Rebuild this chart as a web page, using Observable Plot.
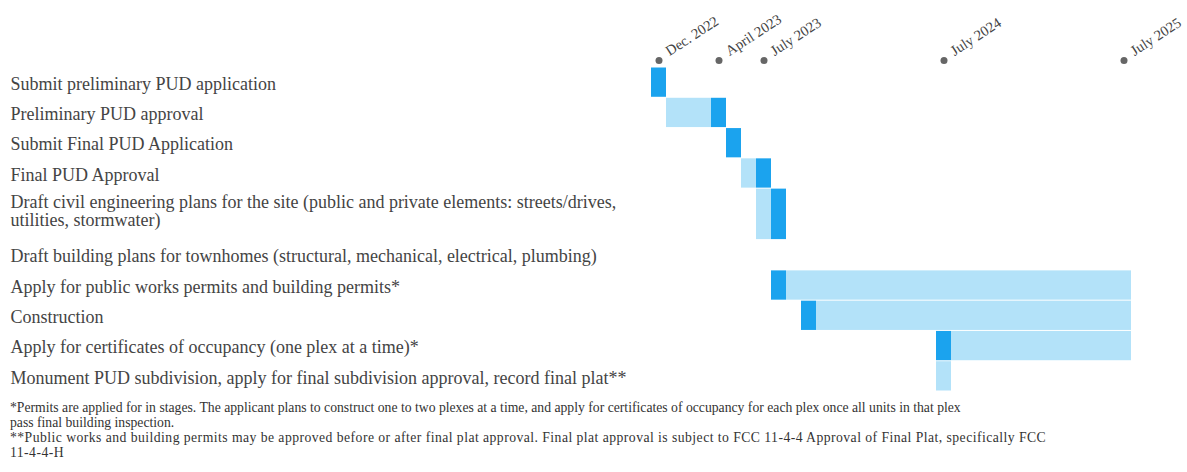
<!DOCTYPE html>
<html><head><meta charset="utf-8">
<script src="https://cdn.jsdelivr.net/npm/d3@7"></script>
<script src="https://cdn.jsdelivr.net/npm/@observablehq/plot@0.6"></script>
<style>
body{margin:0;background:#fff;}
#chart svg{display:block}
.notes{font-family:"Liberation Serif","Times New Roman",serif;font-size:13.7px;line-height:15px;color:#333;margin:5px 0 0 10px;white-space:nowrap;}
.notes .n2{letter-spacing:0.45px;}
</style></head><body>
<div id="chart"></div>
<div class="notes" id="notes"></div>
<script>
// Task labels (top to bottom)
const tasks = [
  "Submit preliminary PUD application",
  "Preliminary PUD approval",
  "Submit Final PUD Application",
  "Final PUD Approval",
  "Draft civil engineering plans for the site (public and private elements: streets/drives,\nutilities, stormwater)",
  "Draft building plans for townhomes (structural, mechanical, electrical, plumbing)",
  "Apply for public works permits and building permits*",
  "Construction",
  "Apply for certificates of occupancy (one plex at a time)*",
  "Monument PUD subdivision, apply for final subdivision approval, record final plat**"
];
// Key (dark) month per task
const darkMonth = ["2022-12","2023-04","2023-05","2023-07","2023-08",null,"2023-08","2023-10","2024-07",null];
// Waiting / ongoing (light) months per task, inclusive
const lightFrom = [null,"2023-01",null,"2023-06","2023-07",null,"2023-09","2023-11","2024-08","2024-07"];
const lightTo   = [null,"2023-03",null,"2023-06","2023-07",null,"2025-07","2025-07","2025-07","2024-07"];
// Timeline span (months) and markers
const firstMonth = "2022-12";
const lastMonth  = "2025-07";
const tickMonths = ["2022-12","2023-04","2023-07","2024-07","2025-07"];
const tickLabels = ["Dec. 2022","April 2023","July 2023","July 2024","July 2025"];
const notes = [
  "*Permits are applied for in stages. The applicant plans to construct one to two plexes at a time, and apply for certificates of occupancy for each plex once all units in that plex\npass final building inspection.",
  "**Public works and building permits may be approved before or after final plat approval. Final plat approval is subject to FCC 11-4-4 Approval of Final Plat, specifically FCC\n11-4-4-H"
];

const D = m => new Date(m + "-01T00:00:00Z");
const mi = m => d3.utcMonth.count(D(firstMonth), D(m)); // month index, 0 = first month
const nMonths = mi(lastMonth) + 1;

// rows: height depends on number of text lines
let acc = 0;
const rows = tasks.map((label, i) => {
  const lines = label.split("\n").length;
  const h = lines > 1 ? 1.7 : 1;
  const r = {i, label, top: acc, bottom: acc + h, labelY: lines > 1 ? acc + 0.7 : acc + h / 2};
  acc += h;
  return r;
});
const total = acc;
const segs = [];
rows.forEach((r, i) => {
  if (lightFrom[i]) segs.push({kind: "light", x1: mi(lightFrom[i]), x2: mi(lightTo[i]) + 1, top: r.top, bottom: r.bottom});
  if (darkMonth[i]) segs.push({kind: "dark", x1: mi(darkMonth[i]), x2: mi(darkMonth[i]) + 1, top: r.top, bottom: r.bottom});
});
const ticks = tickMonths.map((m, i) => ({x: mi(m) + 0.5, label: tickLabels[i]}));

const font = "'Liberation Serif','Times New Roman',serif";
const chart = Plot.plot({
  width: 1187,
  height: 395,
  marginTop: 67,
  marginBottom: 4,
  marginLeft: 0,
  marginRight: 0,
  style: {fontFamily: font, background: "#fff"},
  x: {domain: [0, nMonths], range: [651, 1131], axis: null},
  y: {domain: [0, total], reverse: true, axis: null},
  color: {domain: ["light", "dark"], range: ["#B3E2F9", "#1BA3EE"]},
  marks: [
    Plot.rect(segs, {x1: "x1", x2: "x2", y1: "top", y2: "bottom", fill: "kind", insetTop: 0.5, insetBottom: 0.5}),
    Plot.text(rows, {y: "labelY", text: "label", frameAnchor: "left", dx: 10, dy: 1.5, textAnchor: "start", fontSize: 18, lineHeight: 0.98, fill: "#444", fontFamily: font}),
    Plot.dot(ticks, {x: "x", frameAnchor: "top", dy: -7, r: 3.5, fill: "#666"}),
    Plot.text(ticks, {x: "x", text: "label", frameAnchor: "top", dy: -20, dx: 5, rotate: -33, textAnchor: "start", fontSize: 14.5, fill: "#444", fontFamily: font})
  ]
});
document.getElementById("chart").append(chart);
const esc = s => s.replace(/&/g,"&amp;").replace(/</g,"&lt;");
document.getElementById("notes").innerHTML = notes.map((n, k) => `<div class="n${k+1}">` + n.split("\n").map(esc).join("<br>") + "</div>").join("");
</script>
</body></html>
